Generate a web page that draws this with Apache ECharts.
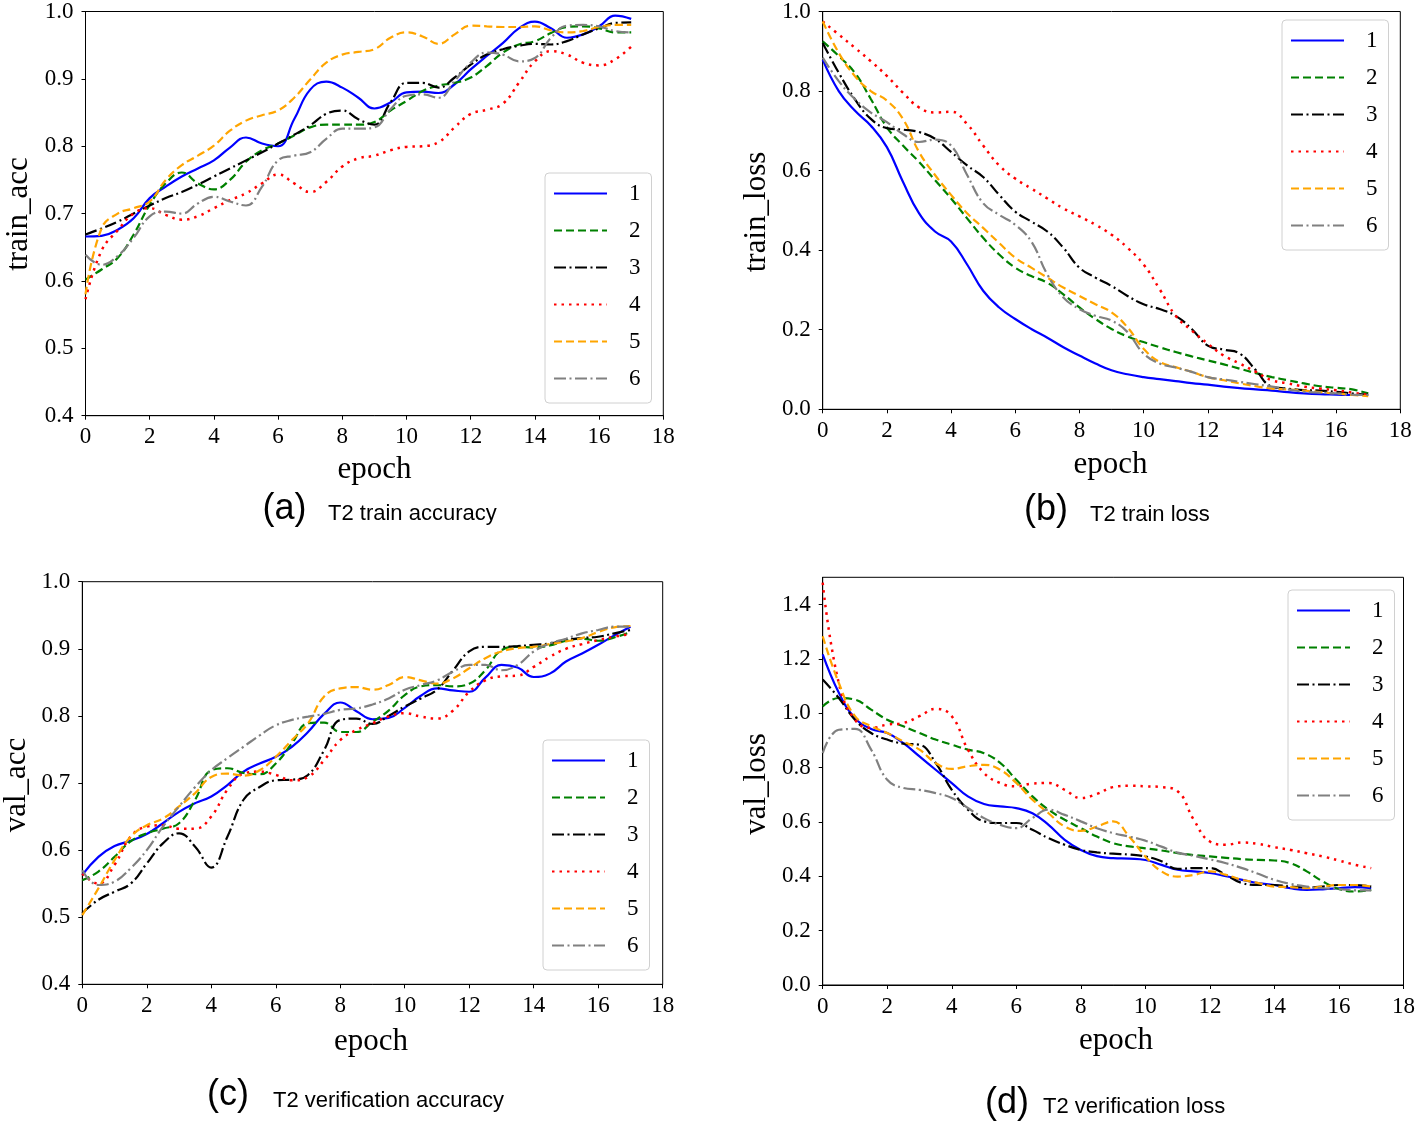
<!DOCTYPE html>
<html>
<head>
<meta charset="utf-8">
<script src="https://cdn.jsdelivr.net/npm/echarts@6/dist/echarts.min.js"></script>
<style>
html,body{margin:0;padding:0;background:#fff;}
#chart{width:1418px;height:1124px;}
</style>
</head>
<body>
<div id="chart"></div>
<script>
// ---- data (values read at half-epoch steps) ----
const epochs = [0,0.5,1,1.5,2,2.5,3,3.5,4,4.5,5,5.5,6,6.5,7,7.5,8,8.5,9,9.5,10,10.5,11,11.5,12,12.5,13,13.5,14,14.5,15,15.5,16,16.5,17];
const seriesNames = ['1','2','3','4','5','6'];

// (a) train accuracy
const trainAcc1 = [0.666,0.667,0.676,0.693,0.723,0.740,0.755,0.767,0.779,0.798,0.813,0.804,0.800,0.840,0.884,0.896,0.887,0.872,0.856,0.865,0.880,0.881,0.879,0.892,0.914,0.934,0.953,0.975,0.985,0.975,0.961,0.966,0.978,0.994,0.989];
const trainAcc2 = [0.602,0.617,0.634,0.669,0.713,0.745,0.761,0.745,0.736,0.750,0.777,0.794,0.804,0.816,0.828,0.832,0.832,0.832,0.836,0.853,0.867,0.882,0.890,0.894,0.902,0.919,0.939,0.951,0.956,0.968,0.977,0.978,0.975,0.969,0.969];
const trainAcc3 = [0.669,0.678,0.688,0.700,0.712,0.723,0.732,0.743,0.755,0.767,0.779,0.791,0.804,0.817,0.831,0.848,0.853,0.840,0.832,0.865,0.894,0.894,0.887,0.902,0.921,0.936,0.944,0.949,0.952,0.951,0.956,0.966,0.975,0.983,0.984];
const trainAcc4 = [0.573,0.645,0.675,0.700,0.708,0.698,0.691,0.696,0.708,0.720,0.730,0.745,0.758,0.745,0.732,0.747,0.770,0.782,0.786,0.794,0.799,0.800,0.806,0.828,0.848,0.854,0.863,0.894,0.926,0.941,0.936,0.924,0.920,0.929,0.948];
const trainAcc5 = [0.580,0.678,0.700,0.708,0.718,0.750,0.772,0.786,0.801,0.823,0.838,0.846,0.853,0.872,0.899,0.924,0.936,0.940,0.944,0.961,0.969,0.963,0.952,0.966,0.979,0.978,0.977,0.977,0.978,0.972,0.969,0.971,0.977,0.980,0.980];
const trainAcc6 = [0.639,0.624,0.637,0.664,0.696,0.703,0.700,0.715,0.725,0.718,0.712,0.740,0.779,0.786,0.791,0.811,0.826,0.826,0.828,0.855,0.875,0.877,0.872,0.897,0.924,0.939,0.936,0.926,0.931,0.961,0.979,0.980,0.978,0.971,0.969];

// (b) train loss
const trainLoss1 = [0.879,0.800,0.751,0.713,0.659,0.572,0.493,0.447,0.422,0.364,0.298,0.256,0.227,0.202,0.180,0.156,0.135,0.115,0.098,0.088,0.081,0.076,0.071,0.066,0.062,0.057,0.053,0.050,0.047,0.043,0.040,0.038,0.037,0.036,0.036];
const trainLoss2 = [0.925,0.888,0.846,0.780,0.709,0.663,0.622,0.576,0.530,0.480,0.431,0.389,0.356,0.335,0.318,0.289,0.256,0.227,0.202,0.183,0.169,0.156,0.144,0.133,0.123,0.113,0.102,0.091,0.081,0.073,0.065,0.058,0.054,0.050,0.040];
const trainLoss3 = [0.921,0.846,0.780,0.730,0.707,0.703,0.697,0.680,0.647,0.613,0.584,0.539,0.497,0.472,0.447,0.406,0.356,0.331,0.310,0.285,0.264,0.252,0.235,0.202,0.160,0.150,0.140,0.098,0.057,0.052,0.048,0.047,0.044,0.040,0.037];
const trainLoss4 = [0.975,0.942,0.909,0.875,0.838,0.796,0.759,0.746,0.748,0.717,0.663,0.613,0.580,0.555,0.530,0.505,0.485,0.464,0.439,0.406,0.364,0.302,0.235,0.198,0.165,0.135,0.115,0.094,0.073,0.065,0.057,0.052,0.048,0.042,0.036];
const trainLoss5 = [0.975,0.896,0.838,0.800,0.776,0.730,0.647,0.589,0.539,0.493,0.456,0.418,0.381,0.356,0.331,0.306,0.285,0.264,0.244,0.206,0.152,0.119,0.106,0.094,0.081,0.073,0.065,0.058,0.052,0.050,0.047,0.043,0.040,0.036,0.033];
const trainLoss6 = [0.884,0.825,0.780,0.746,0.722,0.692,0.672,0.678,0.663,0.589,0.518,0.489,0.464,0.422,0.339,0.281,0.252,0.235,0.223,0.194,0.140,0.115,0.105,0.094,0.081,0.075,0.069,0.063,0.057,0.050,0.044,0.042,0.040,0.037,0.036];

// (c) verification accuracy
const valAcc1 = [0.563,0.590,0.606,0.614,0.624,0.640,0.657,0.670,0.680,0.697,0.717,0.729,0.739,0.754,0.776,0.803,0.820,0.807,0.795,0.797,0.812,0.830,0.841,0.838,0.836,0.857,0.876,0.872,0.858,0.863,0.881,0.893,0.906,0.920,0.933];
const valAcc2 = [0.555,0.568,0.590,0.613,0.625,0.632,0.640,0.675,0.719,0.722,0.715,0.713,0.729,0.759,0.789,0.790,0.776,0.776,0.791,0.808,0.831,0.844,0.846,0.844,0.848,0.868,0.898,0.903,0.902,0.905,0.912,0.915,0.912,0.917,0.925];
const valAcc3 = [0.506,0.526,0.538,0.550,0.580,0.610,0.625,0.605,0.574,0.620,0.675,0.694,0.704,0.705,0.712,0.749,0.794,0.796,0.788,0.800,0.814,0.826,0.839,0.868,0.896,0.903,0.903,0.904,0.906,0.908,0.913,0.916,0.918,0.923,0.928];
const valAcc4 = [0.565,0.550,0.578,0.620,0.635,0.637,0.632,0.632,0.650,0.690,0.714,0.717,0.712,0.704,0.709,0.734,0.764,0.779,0.789,0.799,0.804,0.799,0.796,0.808,0.836,0.853,0.859,0.860,0.873,0.888,0.900,0.907,0.913,0.918,0.922];
const valAcc5 = [0.503,0.543,0.585,0.620,0.637,0.647,0.665,0.685,0.709,0.714,0.711,0.719,0.739,0.764,0.789,0.829,0.841,0.843,0.839,0.846,0.858,0.853,0.848,0.856,0.871,0.886,0.896,0.901,0.903,0.907,0.911,0.916,0.925,0.932,0.934];
const valAcc6 = [0.570,0.548,0.553,0.573,0.600,0.635,0.665,0.694,0.719,0.737,0.754,0.771,0.786,0.794,0.799,0.803,0.809,0.811,0.817,0.826,0.839,0.846,0.853,0.866,0.876,0.876,0.868,0.876,0.896,0.908,0.915,0.923,0.928,0.933,0.933];

// (d) verification loss
const valLoss1 = [1.216,1.075,0.982,0.942,0.927,0.890,0.841,0.792,0.743,0.694,0.666,0.657,0.651,0.632,0.589,0.534,0.497,0.474,0.467,0.465,0.460,0.442,0.424,0.418,0.412,0.400,0.387,0.375,0.368,0.356,0.350,0.352,0.356,0.360,0.356];
const valLoss2 = [1.025,1.056,1.050,1.013,0.976,0.952,0.927,0.903,0.884,0.866,0.853,0.817,0.755,0.694,0.645,0.608,0.577,0.546,0.522,0.510,0.503,0.495,0.485,0.478,0.473,0.468,0.463,0.460,0.458,0.448,0.418,0.381,0.353,0.344,0.350];
const valLoss3 = [1.124,1.056,0.976,0.927,0.903,0.888,0.884,0.817,0.718,0.645,0.602,0.596,0.596,0.571,0.540,0.516,0.497,0.488,0.483,0.480,0.473,0.455,0.427,0.430,0.430,0.405,0.375,0.368,0.368,0.362,0.359,0.362,0.368,0.368,0.362];
const valLoss4 = [1.480,1.110,0.976,0.946,0.958,0.964,0.989,1.016,0.989,0.866,0.780,0.743,0.731,0.741,0.743,0.718,0.688,0.703,0.728,0.733,0.731,0.728,0.713,0.608,0.528,0.516,0.524,0.519,0.507,0.497,0.485,0.473,0.458,0.442,0.430];
const valLoss5 = [1.283,1.111,0.989,0.952,0.927,0.896,0.866,0.817,0.795,0.805,0.810,0.792,0.743,0.682,0.632,0.583,0.567,0.583,0.602,0.546,0.473,0.418,0.399,0.405,0.418,0.405,0.387,0.375,0.362,0.360,0.356,0.362,0.368,0.368,0.362];
const valLoss6 = [0.853,0.939,0.942,0.866,0.755,0.725,0.718,0.706,0.688,0.651,0.614,0.589,0.577,0.614,0.645,0.626,0.602,0.577,0.559,0.546,0.531,0.509,0.487,0.475,0.462,0.448,0.430,0.409,0.387,0.372,0.362,0.356,0.353,0.348,0.348];

// ---- styles ----
const lineStyles = [
  {color:'#0000ff', width:2.2, type:'solid'},
  {color:'#008000', width:2.2, type:[8,4]},
  {color:'#000000', width:2.2, type:[12,3.5,2,3.5]},
  {color:'#ff0000', width:2.5, type:[2.5,5]},
  {color:'#ffa500', width:2.2, type:[8,4]},
  {color:'#808080', width:2.2, type:[12,3.5,2,3.5]}
];

const panels = [
  {data:[trainAcc1,trainAcc2,trainAcc3,trainAcc4,trainAcc5,trainAcc6], grid:{left:85.5, top:8.3, width:577.8, height:407.4}, y:{min:0.4,max:1.0,interval:0.1}, legend:{left:545, top:173}},
  {data:[trainLoss1,trainLoss2,trainLoss3,trainLoss4,trainLoss5,trainLoss6], grid:{left:822.7, top:8.3, width:577.6, height:401}, y:{min:0,max:1.0,interval:0.2}, legend:{left:1282, top:20}},
  {data:[valAcc1,valAcc2,valAcc3,valAcc4,valAcc5,valAcc6], grid:{left:82.3, top:581.7, width:580.4, height:402.6}, y:{min:0.4,max:1.0,interval:0.1}, legend:{left:543, top:740}},
  {data:[valLoss1,valLoss2,valLoss3,valLoss4,valLoss5,valLoss6], grid:{left:822.7, top:577.3, width:584.6, height:407.7}, y:{min:0,max:1.5,interval:0.2, hideMax:true}, legend:{left:1288, top:590}}
];

const serif = 'Liberation Serif';

const grids = [], xAxes = [], yAxes = [], series = [], legends = [];
panels.forEach((p, gi) => {
  grids.push(Object.assign({show:true, borderColor:'#000', borderWidth:1, backgroundColor:'#fff'}, p.grid));
  xAxes.push({
    type:'value', gridIndex:gi, min:0, max:18, interval:2,
    axisLine:{show:true, onZero:false, lineStyle:{color:'#000', width:1}},
    axisTick:{show:true, length:4, lineStyle:{color:'#000'}},
    axisLabel:{color:'#000', fontFamily:serif, fontSize:23, margin:10},
    splitLine:{show:false}
  });
  yAxes.push({
    type:'value', gridIndex:gi, min:p.y.min, max:p.y.max, interval:p.y.interval,
    axisLine:{show:true, onZero:false, lineStyle:{color:'#000', width:1}},
    axisTick:{show:true, length:4, lineStyle:{color:'#000'}},
    axisLabel:{color:'#000', fontFamily:serif, fontSize:23, margin:12, showMaxLabel: !p.y.hideMax,
      formatter: v => v.toFixed(1)},
    splitLine:{show:false}
  });
  p.data.forEach((arr, si) => {
    series.push({
      type:'line', name:seriesNames[si], xAxisIndex:gi, yAxisIndex:gi,
      data: epochs.map((e, i) => [e, arr[i]]),
      smooth:0.45, symbol:'none', showSymbol:false,
      lineStyle: lineStyles[si], itemStyle:{color: lineStyles[si].color},
      emphasis:{disabled:true}, z:2
    });
  });
  legends.push({
    left:p.legend.left, top:p.legend.top, orient:'vertical', data:seriesNames,
    itemWidth:53, itemHeight:14, itemGap:14, padding:[9,11,13,8],
    backgroundColor:'rgba(255,255,255,0.85)', borderColor:'#d0d0d0', borderWidth:1, borderRadius:4,
    selectedMode:false, z:10,
    itemStyle:{opacity:0},
    textStyle:{fontFamily:serif, fontSize:23, color:'#000', lineHeight:23, padding:[0,0,0,17]}
  });
});

function txt(text, x, y, font, opts) {
  return Object.assign({
    type:'text', x:x, y:y, silent:true, z:20,
    style:{text:text, font:font, fill:'#000', textAlign:'center', textVerticalAlign:'middle'}
  }, opts || {});
}
function ltxt(text, x, y, font) {
  const t = txt(text, x, y, font);
  t.style.textAlign = 'left';
  return t;
}
const graphics = [
  // axis titles
  txt('epoch', 374.5, 470, '31px "Liberation Serif"'),
  txt('epoch', 1110.5, 465, '31px "Liberation Serif"'),
  txt('epoch', 371, 1042, '31px "Liberation Serif"'),
  txt('epoch', 1116, 1041, '31px "Liberation Serif"'),
  txt('train_acc', 19, 214, '31px "Liberation Serif"', {rotation: Math.PI/2}),
  txt('train_loss', 757, 212, '31px "Liberation Serif"', {rotation: Math.PI/2}),
  txt('val_acc', 17, 785, '31px "Liberation Serif"', {rotation: Math.PI/2}),
  txt('val_loss', 757, 784, '31px "Liberation Serif"', {rotation: Math.PI/2}),
  // captions
  txt('(a)', 284.5, 509, '36px "Liberation Sans"'),
  ltxt('T2 train accuracy', 328, 514, '22px "Liberation Sans"'),
  txt('(b)', 1046, 510, '36px "Liberation Sans"'),
  ltxt('T2 train loss', 1090, 515, '22px "Liberation Sans"'),
  txt('(c)', 228, 1095, '36px "Liberation Sans"'),
  ltxt('T2 verification accuracy', 273, 1101, '22px "Liberation Sans"'),
  txt('(d)', 1007, 1103, '36px "Liberation Sans"'),
  ltxt('T2 verification loss', 1043, 1107, '22px "Liberation Sans"')
];

const chart = echarts.init(document.getElementById('chart'), null, {renderer:'canvas'});
chart.setOption({
  backgroundColor:'#fff',
  animation:false,
  grid:grids, xAxis:xAxes, yAxis:yAxes, series:series, legend:legends,
  graphic:graphics
});
</script>
</body>
</html>
